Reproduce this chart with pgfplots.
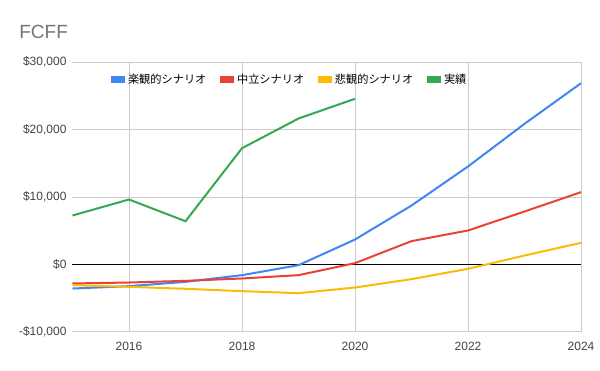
\documentclass[border=0pt]{standalone}
\usepackage{pgfplots}
\pgfplotsset{compat=1.18}
\usepackage{fontspec}
\setmainfont{Liberation Sans}
\newfontfamily\cjk{Noto Sans CJK JP}
\definecolor{gblue}{HTML}{4285F4}
\definecolor{gred}{HTML}{EA4335}
\definecolor{gyellow}{HTML}{FBBC04}
\definecolor{ggreen}{HTML}{34A853}
\definecolor{ggrid}{HTML}{CCCCCC}
\definecolor{gtext}{HTML}{444444}
\definecolor{gtitle}{HTML}{757575}
\begin{document}
\begin{tikzpicture}[x=1pt,y=1pt]
\useasboundingbox[fill=white] (-54.375,-29.25) rectangle (395.625,249);
\begin{axis}[
  at={(0,0)}, anchor=south west,
  scale only axis, width=381.4pt, height=202.5pt,
  xmin=2015, xmax=2024, ymin=-10000, ymax=30000,
  scaled y ticks=false,
  axis line style={draw=none},
  tick style={draw=none},
  xtick={2016,2018,2020,2022,2024},
  xticklabels={2016,2018,2020,2022,2024},
  ytick={-10000,0,10000,20000,30000},
  yticklabels={{-\$10,000},{\$0},{\$10,000},{\$20,000},{\$30,000}},
  extra y ticks={0}, extra y tick labels={},
  extra y tick style={grid style={black, line width=0.75pt}},
  grid=major, grid style={ggrid, line width=0.75pt},
  ticklabel style={font=\fontsize{9}{10}\selectfont, text=gtext},
  xticklabel style={yshift=-4pt},
  yticklabel style={xshift=-1pt},
  legend columns=4,
  legend style={draw=none, fill=none, at={(0.068,0.935)}, anchor=west,
    font=\cjk\fontsize{8.4}{10}\selectfont, text=black,
    /tikz/every even column/.append style={column sep=8.5pt}},
  legend image code/.code={\fill[#1] (0pt,-1.6pt) rectangle (9pt,1.6pt);},
  every axis plot/.append style={line width=1.5pt},
  clip=false,
]
\addplot[gblue] coordinates {(2015,-3560)(2016,-3210)(2017,-2570)(2018,-1580)(2019,-100)(2020,3700)(2021,8740)(2022,14520)(2023,20840)(2024,26860)};
\addlegendentry{楽観的シナリオ}
\addplot[gred] coordinates {(2015,-2810)(2016,-2670)(2017,-2420)(2018,-2070)(2019,-1580)(2020,200)(2021,3460)(2022,5040)(2023,7850)(2024,10720)};
\addlegendentry{中立シナリオ}
\addplot[gyellow] coordinates {(2015,-3060)(2016,-3310)(2017,-3600)(2018,-3950)(2019,-4250)(2020,-3410)(2021,-2170)(2022,-640)(2023,1330)(2024,3210)};
\addlegendentry{悲観的シナリオ}
\addplot[ggreen] coordinates {(2015,7260)(2016,9630)(2017,6410)(2018,17230)(2019,21630)(2020,24550)};
\addlegendentry{実績}
\end{axis}
\node[anchor=base west, inner sep=0pt, text=gtitle, font=\fontsize{14.3}{16}\selectfont] at (-40.1,220) {FCFF};
\end{tikzpicture}
\end{document}
